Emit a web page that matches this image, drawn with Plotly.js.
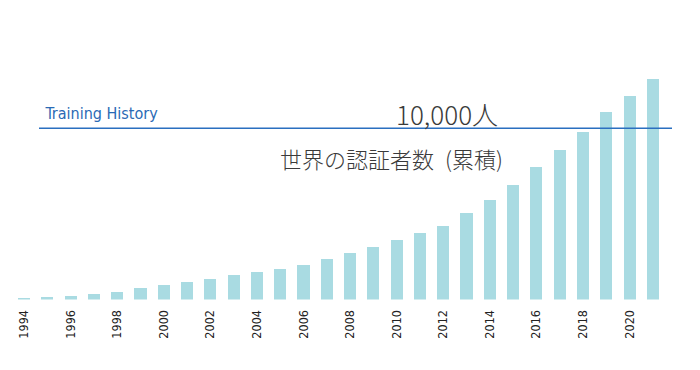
<!DOCTYPE html>
<html>
<head>
<meta charset="utf-8">
<script src="https://cdn.plot.ly/plotly-3.0.1.min.js"></script>
<style>
html,body{margin:0;padding:0;background:#fff;}
#chart{width:700px;height:370px;}
#chart .xtick text, #chart .annotation[data-index="0"] text { font-stretch: condensed !important; }
</style>
</head>
<body>
<div id="chart"></div>
<script>
// Data
const years = [1994,1995,1996,1997,1998,1999,2000,2001,2002,2003,2004,2005,2006,2007,2008,2009,2010,2011,2012,2013,2014,2015,2016,2017,2018,2019,2020,2021];
const certified = [70,146,222,340,456,654,847,1005,1180,1413,1589,1800,2033,2383,2716,3067,3475,3884,4310,5053,5812,6705,7740,8750,9766,10952,11887,12880];
const tickYears = [1994,1996,1998,2000,2002,2004,2006,2008,2010,2012,2014,2016,2018,2020];
const refValue = 10000;
const headerText = "Training History";
const refLabel = "10,000人";
const subtitle = "世界の認証者数\u2002(累積)";

const W = 700, H = 370;
const px = v => v / W;
const py = v => 1 - v / H;

const yTopPx = 20, yBasePx = 299.5, refPx = 128.3;
const yMax = refValue * (yBasePx - yTopPx) / (yBasePx - refPx);

const trace = {
  type: 'bar',
  x: years,
  y: certified,
  width: 0.52,
  marker: {color: '#a9dbe2', line: {width: 0}},
  hoverinfo: 'skip'
};

const layout = {
  width: W, height: H,
  margin: {l: 0, r: 0, t: 0, b: 0, pad: 0},
  paper_bgcolor: '#ffffff',
  plot_bgcolor: '#ffffff',
  showlegend: false,
  bargap: 0,
  xaxis: {
    domain: [px(12.35), px(664.5)],
    range: [1993.5, 2021.5],
    tickmode: 'array',
    tickvals: tickYears,
    ticktext: tickYears.map(String),
    tickangle: -90,
    ticks: '',
    showgrid: false,
    zeroline: false,
    showline: false,
    ticklabelstandoff: 7,
    tickfont: {family: '"DejaVu Sans", sans-serif', size: 12.5, color: '#222222'},
    automargin: false,
    fixedrange: true
  },
  yaxis: {
    domain: [py(yBasePx), py(yTopPx)],
    range: [0, yMax],
    visible: false,
    showgrid: false,
    zeroline: false,
    automargin: false,
    fixedrange: true
  },
  shapes: [{
    type: 'line', xref: 'paper', yref: 'y',
    x0: px(39), x1: px(672), y0: refValue, y1: refValue,
    line: {color: '#2a6fc0', width: 1.6},
    layer: 'above'
  }],
  annotations: [
    {
      text: headerText, xref: 'paper', yref: 'paper',
      x: px(101), y: py(114), xanchor: 'center', yanchor: 'middle',
      showarrow: false,
      font: {family: '"DejaVu Sans", sans-serif', size: 16, color: '#2a6ab5'}
    },
    {
      text: refLabel, xref: 'paper', yref: 'paper',
      x: px(500), y: py(113), xanchor: 'right', yanchor: 'middle',
      showarrow: false,
      font: {family: '"Noto Sans CJK JP", sans-serif', size: 26, color: '#3a3a3a', weight: 200}
    },
    {
      text: subtitle, xref: 'paper', yref: 'paper',
      x: px(278), y: py(158), xanchor: 'left', yanchor: 'middle',
      showarrow: false,
      font: {family: '"Noto Sans CJK JP", sans-serif', size: 22, color: '#3a3a3a', weight: 200}
    }
  ]
};

Plotly.newPlot('chart', [trace], layout, {displayModeBar: false, staticPlot: true});
</script>
</body>
</html>
